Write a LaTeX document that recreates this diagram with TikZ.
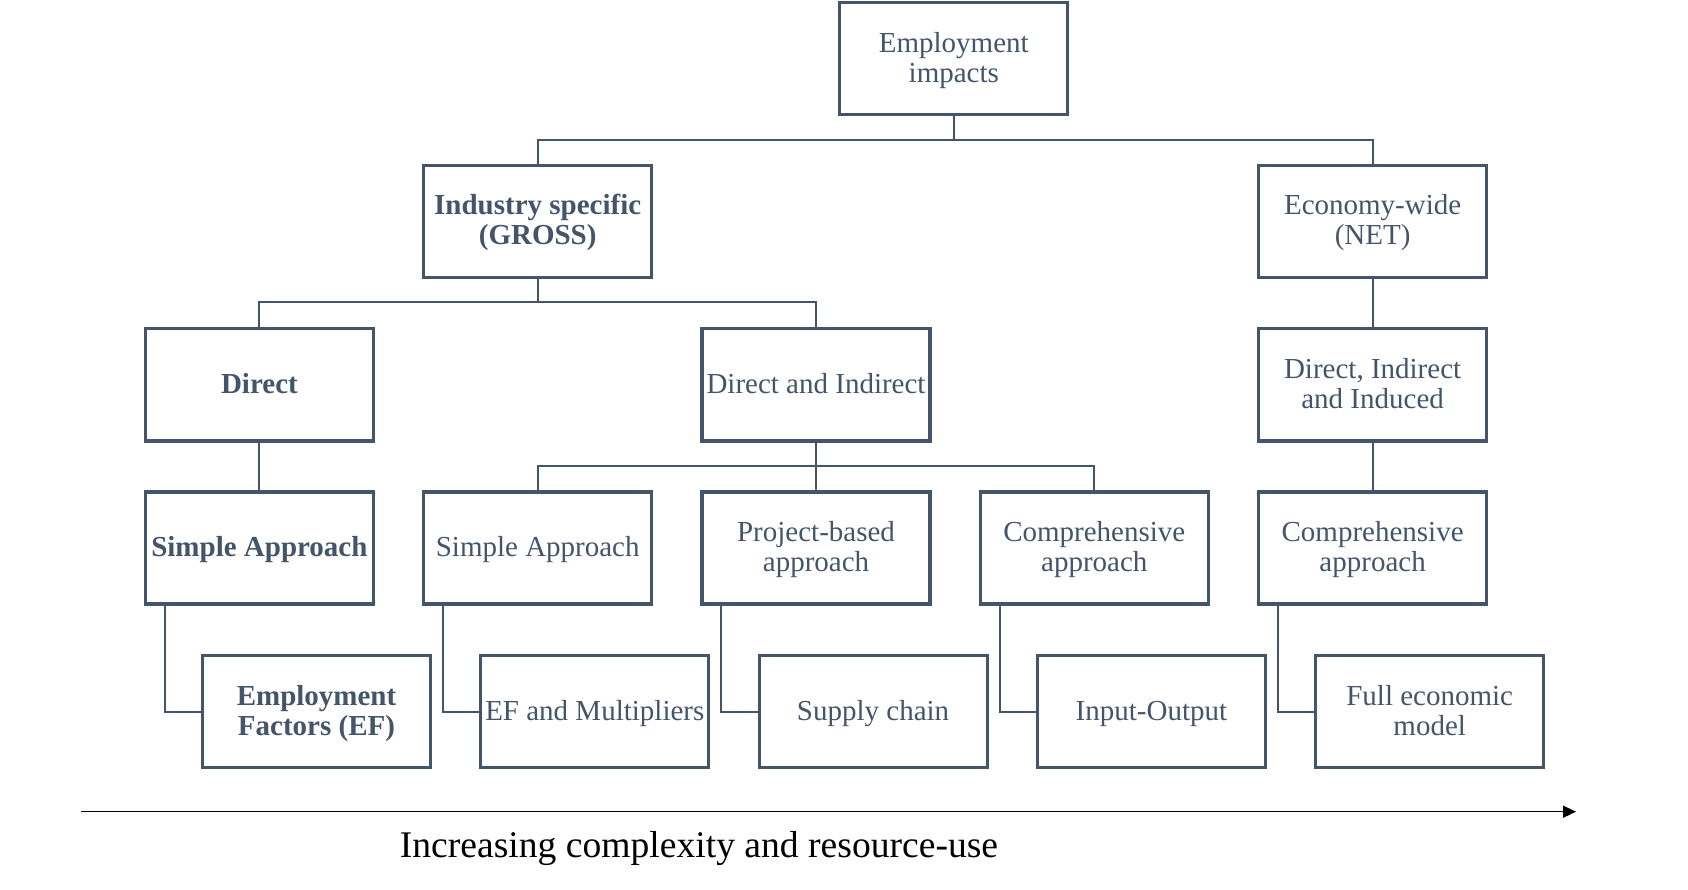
\documentclass[tikz,border=0pt]{standalone}
\usepackage{fontspec}
\setmainfont{Liberation Serif}
\usetikzlibrary{arrows.meta}
\definecolor{slate}{HTML}{44546A}
\newcommand{\tst}{\rule{0pt}{24pt}}
\tikzset{
  box/.style={draw=slate, line width=3.2pt, text=slate, minimum width=228pt, minimum height=112pt,
    inner sep=0pt, align=center, font=\fontsize{29}{30}\selectfont,
    execute at end node={\rule[-6.6pt]{0pt}{6.6pt}}},
  boldbox/.style={box, font=\fontsize{29}{30}\selectfont\bfseries},
  link/.style={draw=slate, line width=2pt}
}
\begin{document}
\begin{tikzpicture}[x=1pt,y=-1pt]
\useasboundingbox (0,0) rectangle (1688,890);
% level 1
\node[box] (top) at (953.8,58.7) {\tst Employment\\impacts};
% level 2
\node[boldbox] (gross) at (537.7,221.2) {\tst Industry specific\\(GROSS)};
\node[box] (net) at (1372.6,221.2) {\tst Economy-wide\\(NET)};
% level 3
\node[boldbox] (dir) at (259.4,384.9) {\tst Direct};
\node[box] (dind) at (816,384.9) {\tst Direct and Indirect};
\node[box] (dii) at (1372.6,384.9) {\tst Direct, Indirect\\and Induced};
% level 4
\node[boldbox] (sa1) at (259.4,548) {\tst Simple Approach};
\node[box] (sa2) at (537.7,548) {\tst Simple Approach};
\node[box] (pb) at (816,548) {\tst Project-based\\approach};
\node[box] (ca1) at (1094.3,548) {\tst Comprehensive\\approach};
\node[box] (ca2) at (1372.6,548) {\tst Comprehensive\\approach};
% level 5
\node[boldbox] (ef) at (316.5,711.6) {\tst Employment\\Factors (EF)};
\node[box] (efm) at (594.8,711.6) {\tst EF and Multipliers};
\node[box] (sc) at (873.1,711.6) {\tst Supply chain};
\node[box] (io) at (1151.4,711.6) {\tst Input-Output};
\node[box] (fem) at (1429.7,711.6) {\tst Full economic\\model};
% connectors
\coordinate (r1) at (0,140);
\coordinate (r2) at (0,302.5);
\coordinate (r3) at (0,466.1);
\draw[link] (top.south) -- (top.south |- r1) -| (gross.north);
\draw[link] (top.south |- r1) -| (net.north);
\draw[link] (gross.south) -- (gross.south |- r2) -| (dir.north);
\draw[link] (gross.south |- r2) -| (dind.north);
\draw[link] (net.south) -- (dii.north);
\draw[link] (dir.south) -- (sa1.north);
\draw[link] (dind.south) -- (pb.north);
\draw[link] (dind.south |- r3) -| (sa2.north);
\draw[link] (dind.south |- r3) -| (ca1.north);
\draw[link] (dii.south) -- (ca2.north);
\draw[link] ([xshift=21pt]sa1.south west) |- (ef.west);
\draw[link] ([xshift=21pt]sa2.south west) |- (efm.west);
\draw[link] ([xshift=21pt]pb.south west) |- (sc.west);
\draw[link] ([xshift=21pt]ca1.south west) |- (io.west);
\draw[link] ([xshift=21pt]ca2.south west) |- (fem.west);
% arrow
\coordinate (a0) at (80.7,811.7);
\coordinate (a1) at (1576,811.7);
\draw[black, line width=1.4pt, -{Triangle[length=13pt,width=12pt]}] (a0) -- (a1);
\node[font=\fontsize{37.6}{40}\selectfont, text=black, anchor=base, inner sep=0pt] (lbl) at (699,857) {Increasing complexity and resource-use};
\end{tikzpicture}
\end{document}
